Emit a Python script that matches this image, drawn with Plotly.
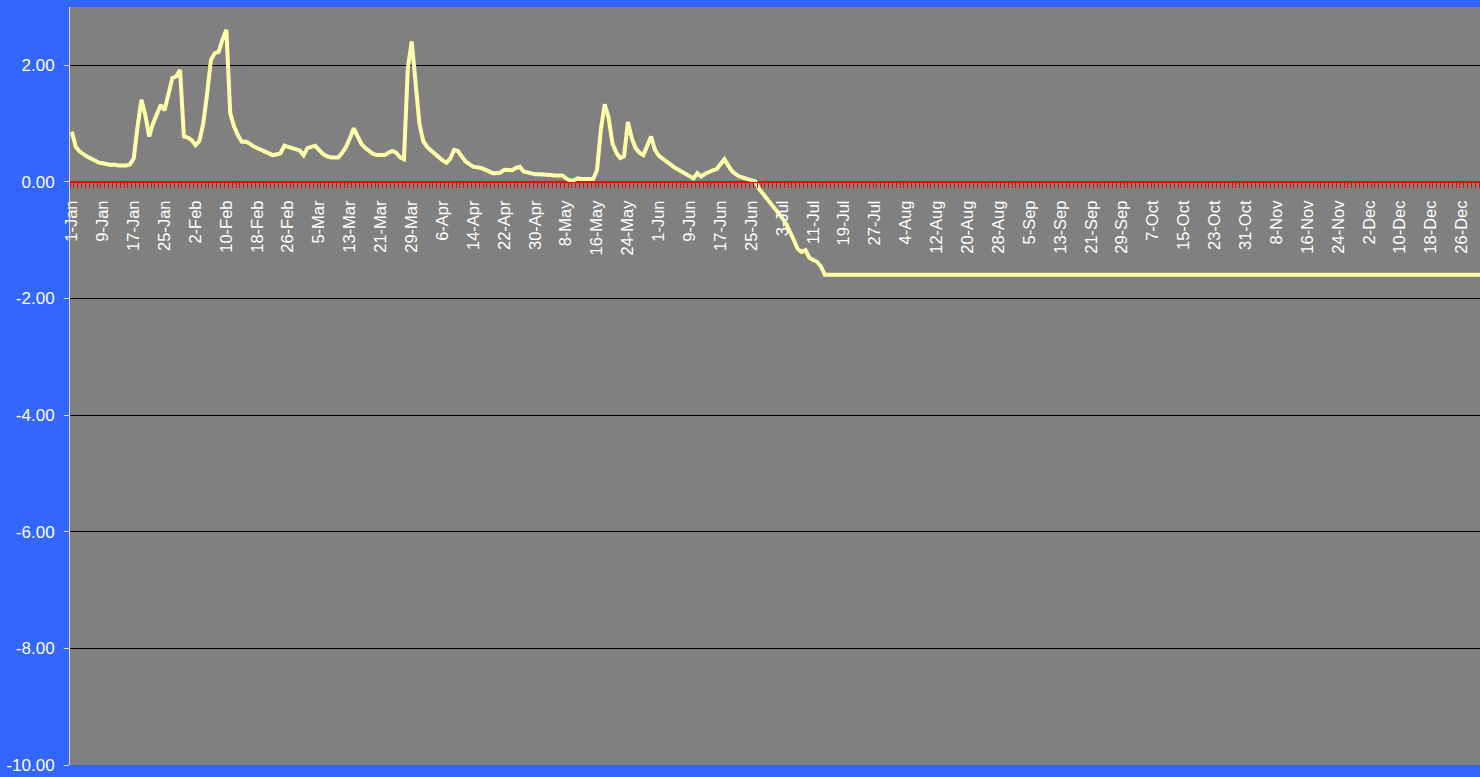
import plotly.graph_objects as go

# Daily values from 1-Jan (day index 0) through the start of the flat section
daily_values = [
    0.86, 0.60, 0.52, 0.47, 0.43, 0.40, 0.36, 0.33, 0.32, 0.31,
    0.29, 0.30, 0.28, 0.28, 0.28, 0.30, 0.40, 0.95, 1.41, 1.15,
    0.78, 1.00, 1.15, 1.32, 1.23, 1.50, 1.78, 1.81, 1.92, 0.78,
    0.76, 0.72, 0.63, 0.70, 1.00, 1.50, 2.09, 2.21, 2.23, 2.44,
    2.61, 1.18, 0.95, 0.80, 0.69, 0.69, 0.66, 0.61, 0.58, 0.55,
    0.52, 0.48, 0.46, 0.47, 0.49, 0.62, 0.60, 0.58, 0.56, 0.54,
    0.46, 0.58, 0.60, 0.62, 0.55, 0.48, 0.44, 0.42, 0.42, 0.42,
    0.50, 0.60, 0.75, 0.92, 0.78, 0.65, 0.58, 0.53, 0.48, 0.46,
    0.46, 0.46, 0.50, 0.53, 0.50, 0.42, 0.39, 1.95, 2.41, 1.60,
    1.00, 0.70, 0.60, 0.54, 0.48, 0.42, 0.37, 0.33, 0.40, 0.55,
    0.53, 0.43, 0.35, 0.30, 0.26, 0.25, 0.24, 0.21, 0.18, 0.15,
    0.15, 0.16, 0.21, 0.21, 0.20, 0.24, 0.26, 0.18, 0.16, 0.14,
    0.13, 0.13, 0.13, 0.12, 0.12, 0.11, 0.11, 0.11, 0.06, 0.02,
    0.03, 0.06, 0.05, 0.05, 0.05, 0.05, 0.20, 0.90, 1.33, 1.10,
    0.66, 0.50, 0.41, 0.44, 1.03, 0.75, 0.58, 0.50, 0.46, 0.60,
    0.78, 0.55, 0.45, 0.40, 0.34, 0.30, 0.25, 0.21, 0.18, 0.14,
    0.10, 0.06, 0.15, 0.09, 0.14, 0.18, 0.20, 0.22, 0.32, 0.39,
    0.28, 0.18, 0.13, 0.09, 0.07, 0.05, 0.02, 0.01, -0.12, -0.20,
    -0.30, -0.38, -0.45, -0.53, -0.62, -0.72, -0.85, -1.00, -1.15, -1.20,
    -1.17, -1.30, -1.34, -1.37, -1.45, -1.59,
]
# Flat section to the last day of the year (31-Dec, day index 365)
last_day_index = 365
last_day_value = -1.59

tick_days = [0, 8, 16, 24, 32, 40, 48, 56, 64, 72, 80, 88, 96, 104, 112, 120,
             128, 136, 144, 152, 160, 168, 176, 184, 192, 200, 208, 216, 224,
             232, 240, 248, 256, 264, 272, 280, 288, 296, 304, 312, 320, 328,
             336, 344, 352, 360]
tick_labels = ["1-Jan", "9-Jan", "17-Jan", "25-Jan", "2-Feb", "10-Feb", "18-Feb",
               "26-Feb", "5-Mar", "13-Mar", "21-Mar", "29-Mar", "6-Apr", "14-Apr",
               "22-Apr", "30-Apr", "8-May", "16-May", "24-May", "1-Jun", "9-Jun",
               "17-Jun", "25-Jun", "3-Jul", "11-Jul", "19-Jul", "27-Jul", "4-Aug",
               "12-Aug", "20-Aug", "28-Aug", "5-Sep", "13-Sep", "21-Sep", "29-Sep",
               "7-Oct", "15-Oct", "23-Oct", "31-Oct", "8-Nov", "16-Nov", "24-Nov",
               "2-Dec", "10-Dec", "18-Dec", "26-Dec"]

y_ticks = [-10, -8, -6, -4, -2, 0, 2]

x_vals = list(range(len(daily_values))) + [last_day_index]
y_vals = daily_values + [last_day_value]

BLUE = "rgb(51,102,255)"
GRAY = "rgb(128,128,128)"
FONT = "Liberation Sans, Arial, sans-serif"

fig = go.Figure()
fig.add_trace(go.Scatter(
    x=x_vals, y=y_vals, mode="lines",
    line=dict(color="#FFFFAA", width=4),
    hoverinfo="skip", showlegend=False,
))

y_min, y_max = -10, 3
fig.update_layout(
    width=1480, height=777,
    margin=dict(l=70, r=0, t=7, b=12, pad=0),
    paper_bgcolor=BLUE, plot_bgcolor=GRAY,
    font=dict(family=FONT, color="white"),
    showlegend=False,
    xaxis=dict(
        range=[-0.5, 364.7],
        anchor="free", position=(0 - y_min) / (y_max - y_min),
        tickmode="array", tickvals=tick_days, ticktext=tick_labels,
        tickangle=-90, tickfont=dict(size=16.5, color="white", family=FONT),
        ticks="", ticklabelstandoff=11,
        showline=True, linecolor="red", linewidth=1,
        showgrid=False, zeroline=False,
        minor=dict(ticks="outside", tick0=-0.5, dtick=1, ticklen=5,
                   tickcolor="red", tickwidth=1, showgrid=False),
    ),
    yaxis=dict(
        range=[y_min, y_max], domain=[0, 1],
        tickmode="array", tickvals=y_ticks,
        ticktext=[f"{v:.2f}" for v in y_ticks],
        tickfont=dict(size=17, color="white", family=FONT),
        ticks="outside", ticklen=5, tickcolor="#DDDDDD", tickwidth=1,
        ticklabelstandoff=6,
        showline=True, linecolor="#DDDDDD", linewidth=1,
        showgrid=True, gridcolor="black", gridwidth=1,
        zeroline=True, zerolinecolor="red", zerolinewidth=1,
    ),
)

fig.write_html("out.html", config={"displayModeBar": False})

# Remove the default page margin so the figure sits at the window's top-left corner
with open("out.html", "r", encoding="utf-8") as f:
    html = f.read()
html = html.replace(
    "<head>",
    "<head><style>html,body{margin:0;padding:0;overflow:hidden;background:"
    + BLUE + ";}</style>",
    1,
)
with open("out.html", "w", encoding="utf-8") as f:
    f.write(html)
